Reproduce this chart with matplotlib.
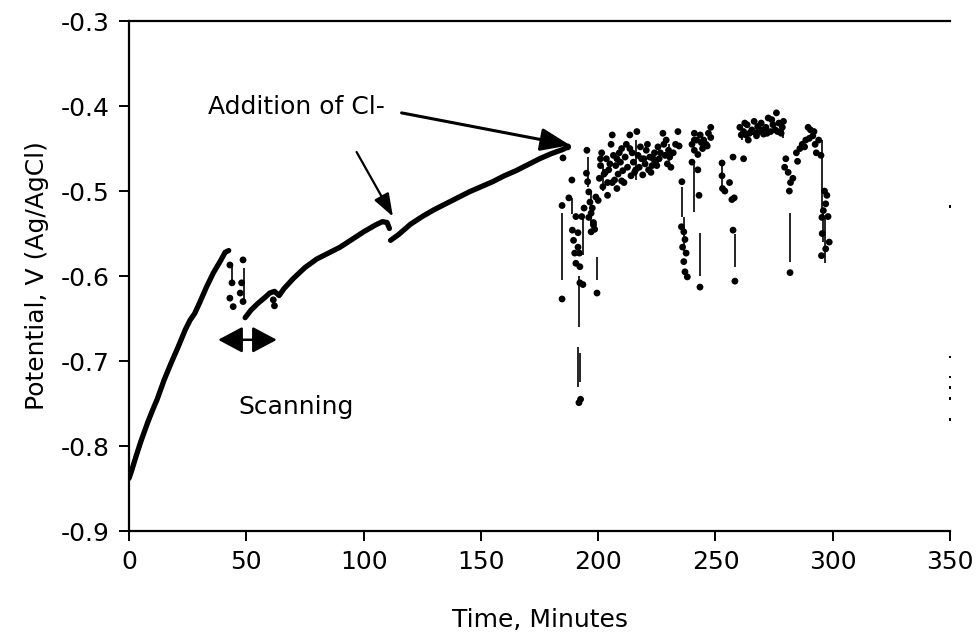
import matplotlib
matplotlib.use("Agg")
import matplotlib.pyplot as plt

plt.rcParams['font.family'] = ['DejaVu Sans']

# Smooth segments (time in minutes, potential in V)
seg1_t = [0, 1, 3, 5, 8, 10, 12, 15, 18, 21, 24, 26, 28, 30, 33, 36, 39, 41, 42.5]
seg1_v = [-0.838, -0.83, -0.812, -0.795, -0.772, -0.758, -0.745, -0.722, -0.702, -0.683,
          -0.663, -0.652, -0.644, -0.632, -0.613, -0.596, -0.582, -0.572, -0.570]
seg2_t = [49.5, 52, 55, 58, 60, 62, 64, 66, 70, 75, 80, 85, 90, 95, 100, 105, 108, 110, 111]
seg2_v = [-0.649, -0.64, -0.632, -0.625, -0.62, -0.618, -0.623, -0.615, -0.603, -0.59,
          -0.58, -0.573, -0.566, -0.557, -0.548, -0.54, -0.536, -0.537, -0.544]
seg3_t = [111.5, 115, 120, 125, 130, 135, 140, 145, 150, 155, 160, 165, 170, 175, 180, 185, 187]
seg3_v = [-0.558, -0.551, -0.539, -0.53, -0.522, -0.515, -0.508, -0.501, -0.495, -0.489,
          -0.482, -0.476, -0.469, -0.462, -0.456, -0.451, -0.448]

# Scattered readings
dots_t = [43, 43.9, 48.6, 48, 47.4, 43, 44.4, 48.6, 61.5, 62,
          184.6, 184.6, 185, 187, 188.8, 189, 189.5, 190, 190.5, 191.4, 191.4, 192, 192.2, 192.2,
          191.8, 192.5, 195.2, 195, 195.5, 196, 196.5, 197, 196, 198, 197.5, 199, 200, 199.5, 198,
          197, 198.5, 193, 194, 193.5, 190.5, 187.5,
          200.5, 201, 201.5, 202, 202.5, 203.5, 204, 204.5, 205.5, 206, 206.5, 207, 207.5, 208.5,
          209, 209.5, 210.5, 211, 211.5, 212.5, 213.5, 213.5, 214, 215, 215.5, 216.5, 217, 217.5,
          218.5, 219, 220, 220.5, 221.5, 222, 223, 224, 224.5, 225.5, 226,
          201, 203, 205, 208, 210, 212, 214.5, 216, 218, 219.5, 221, 222.5, 223.5, 225, 226.5,
          204, 206, 208, 210,
          227.6, 228, 228.5, 229, 229.5, 230, 230.5, 231, 232, 233, 234, 234.5,
          235.7, 235.5, 236.5, 237, 236, 237.5, 236.5, 237, 238, 240, 242.5, 243, 243.4, 240, 241,
          241, 243.5, 245, 246.5, 248, 248, 241, 242.5, 244.5, 246, 244, 247, 242,
          252.8, 252.8, 253, 254, 256, 257, 258, 257.5, 258.3, 257.5, 262,
          260.4, 261, 262, 263.5, 264.5, 265.5, 266.5, 267.5, 268.5, 269.5, 270.5, 271.5, 272.5,
          273.5, 274.5, 275.5, 276, 277, 278, 279,
          262.5, 264, 266, 268, 270, 272, 274, 276.5, 278.5, 263,
          280, 279.5, 281, 282, 281.5, 281.8, 283,
          284.5, 286, 287, 288.5, 289.5, 290.5, 291.5, 292.5, 293, 295, 295.4,
          285, 288, 290, 292, 294,
          296.5, 297.5, 297, 296, 298, 295.5, 295.2, 297, 298.5]
dots_v = [-0.587, -0.608, -0.581, -0.608, -0.62, -0.626, -0.636, -0.63, -0.628, -0.635,
          -0.517, -0.627, -0.461, -0.448, -0.487, -0.546, -0.558, -0.573, -0.585, -0.549, -0.566,
          -0.573, -0.589, -0.608, -0.749, -0.745, -0.452, -0.479, -0.489, -0.501, -0.513, -0.526,
          -0.531, -0.54, -0.52, -0.507, -0.511, -0.62, -0.537, -0.548, -0.545,
          -0.53, -0.52, -0.61, -0.53, -0.508,
          -0.485, -0.47, -0.455, -0.495, -0.48, -0.462, -0.49, -0.475, -0.445, -0.434, -0.458,
          -0.487, -0.47, -0.48, -0.455, -0.466, -0.476, -0.49, -0.46, -0.472, -0.434, -0.45,
          -0.482, -0.466, -0.478, -0.43, -0.458, -0.472, -0.462, -0.481, -0.468, -0.452, -0.475,
          -0.46, -0.47, -0.455, -0.465, -0.448, -0.462,
          -0.462, -0.478, -0.468, -0.462, -0.45, -0.445, -0.455, -0.475, -0.448, -0.462, -0.445,
          -0.478, -0.462, -0.47, -0.455,
          -0.505, -0.49, -0.497, -0.488,
          -0.432, -0.445, -0.458, -0.44, -0.468, -0.452, -0.46, -0.472, -0.455, -0.445, -0.43, -0.447,
          -0.489, -0.542, -0.548, -0.557, -0.566, -0.573, -0.583, -0.595, -0.601, -0.466, -0.475,
          -0.505, -0.613, -0.445, -0.44,
          -0.432, -0.434, -0.44, -0.447, -0.425, -0.437, -0.452, -0.457, -0.45, -0.445,
          -0.443, -0.432, -0.44,
          -0.467, -0.482, -0.497, -0.5, -0.49, -0.51, -0.508, -0.546, -0.606, -0.46, -0.462,
          -0.425, -0.434, -0.43, -0.422, -0.432, -0.428, -0.418, -0.435, -0.43, -0.42, -0.433,
          -0.425, -0.414, -0.43, -0.422, -0.428, -0.408, -0.42, -0.432, -0.418,
          -0.42, -0.44, -0.43, -0.424, -0.428, -0.432, -0.416, -0.43, -0.425, -0.434,
          -0.462, -0.472, -0.478, -0.49, -0.5, -0.596, -0.485,
          -0.455, -0.45, -0.445, -0.44, -0.425, -0.428, -0.435, -0.445, -0.455, -0.458, -0.531,
          -0.465, -0.448, -0.438, -0.43, -0.44,
          -0.5, -0.505, -0.515, -0.523, -0.53, -0.55, -0.576, -0.568, -0.56]

# Vertical drop lines (time, lower potential, upper potential)
drop_t = [44, 49, 184.6, 189, 192, 191.6, 192.4, 193.5, 195.5, 199.5, 216, 235.7, 243.4, 241,
          258.3, 278.8, 281.8, 295.4, 296.5, 197, 202, 230, 253, 236.8, 261.5, 296]
drop_lo = [-0.61, -0.63, -0.605, -0.527, -0.66, -0.731, -0.725, -0.575, -0.495, -0.605, -0.487,
           -0.53, -0.60, -0.525, -0.589, -0.437, -0.583, -0.526, -0.585, -0.54, -0.50, -0.465,
           -0.50, -0.57, -0.44, -0.56]
drop_hi = [-0.585, -0.59, -0.526, -0.508, -0.60, -0.684, -0.69, -0.533, -0.46, -0.578, -0.44,
           -0.495, -0.549, -0.467, -0.55, -0.42, -0.526, -0.44, -0.53, -0.50, -0.47, -0.445,
           -0.468, -0.53, -0.425, -0.52]

# Stray marks at right edge
edge_t = [350, 350, 350, 350, 350, 350]
edge_v = [-0.518, -0.695, -0.719, -0.731, -0.744, -0.769]

x_ticks = [0, 50, 100, 150, 200, 250, 300, 350]
y_ticks = [-0.9, -0.8, -0.7, -0.6, -0.5, -0.4, -0.3]

FS = 18

fig = plt.figure(figsize=(9.79, 6.39), dpi=100)
ax = fig.add_axes([0.1318, 0.169, 0.8386, 0.798])

for tt, vv in [(seg1_t, seg1_v), (seg2_t, seg2_v), (seg3_t, seg3_v)]:
    ax.plot(tt, vv, color='black', lw=3.8, solid_capstyle='round', solid_joinstyle='round')
ax.vlines(drop_t, drop_lo, drop_hi, color='black', lw=1.2)
ax.scatter(dots_t, dots_v, s=24, color='black', edgecolors='none', zorder=3)
ax.scatter(edge_t, edge_v, s=3, color='black', edgecolors='none', marker='s', clip_on=False)

ax.set_xlim(0, 350)
ax.set_ylim(-0.9, -0.3)
ax.set_xticks(x_ticks)
ax.set_xticklabels([str(x) for x in x_ticks])
ax.set_yticks(y_ticks)
ax.set_yticklabels([f"{y:.1f}" for y in y_ticks])
ax.spines['right'].set_visible(False)
for s in ['left', 'top', 'bottom']:
    ax.spines[s].set_linewidth(1.6)
ax.tick_params(direction='out', length=7, width=1.4, labelsize=FS, pad=7)

ax.set_xlabel('Time, Minutes', fontsize=FS, labelpad=24)
ax.set_ylabel('Potential, V (Ag/AgCl)', fontsize=FS, labelpad=8)

ax.text(33.7, -0.401, 'Addition of Cl-', fontsize=FS, ha='left', va='center')
ax.annotate('', xy=(188, -0.446), xytext=(116.2, -0.408),
            arrowprops=dict(arrowstyle='-|>,head_length=0.9,head_width=0.35', color='black',
                            lw=2.2, shrinkA=0, shrinkB=0, mutation_scale=20))
ax.annotate('', xy=(112.5, -0.530), xytext=(97, -0.454),
            arrowprops=dict(arrowstyle='-|>,head_length=0.7,head_width=0.25', color='black',
                            lw=1.6, shrinkA=0, shrinkB=0, mutation_scale=20))
ax.annotate('', xy=(63, -0.675), xytext=(38, -0.675),
            arrowprops=dict(arrowstyle='<|-|>,head_length=0.75,head_width=0.4', color='black',
                            lw=1.8, shrinkA=0, shrinkB=0, mutation_scale=20))
ax.text(46.5, -0.754, 'Scanning', fontsize=FS, ha='left', va='center')

fig.savefig('out.png', dpi=100)
